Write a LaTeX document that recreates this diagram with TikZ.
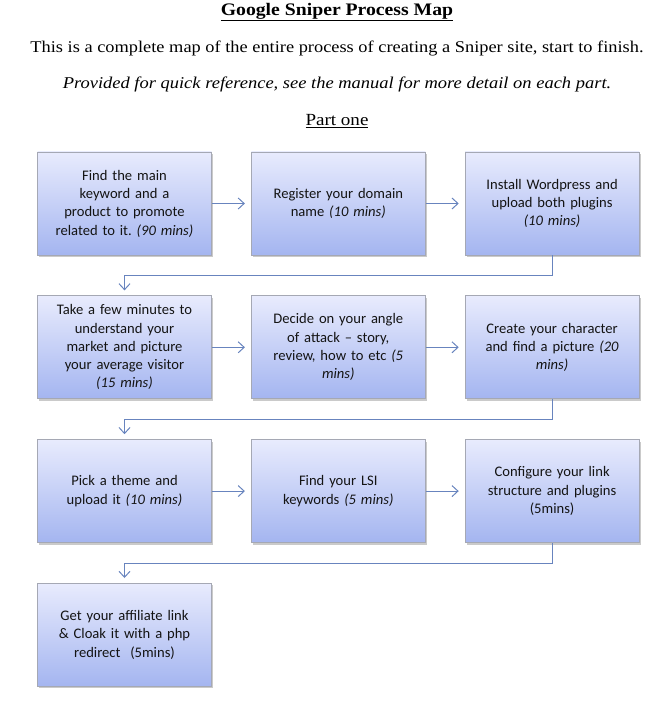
\documentclass[tikz,border=0pt]{standalone}
\usepackage{fontspec}
\setmainfont{Liberation Serif}[FakeStretch=1.12]
\setsansfont{Carlito}
\usepackage{tikz}
\usetikzlibrary{positioning, arrows.meta, shadows}
\frenchspacing
\definecolor{boxtop}{RGB}{232,235,253}
\definecolor{boxbot}{RGB}{164,181,240}
\definecolor{boxline}{RGB}{165,168,180}
\definecolor{flowline}{RGB}{104,132,190}
\definecolor{boxtext}{RGB}{20,20,20}
\tikzset{
  stepbox/.style={rectangle, draw=boxline, line width=0.8pt,
                  top color=boxtop, bottom color=boxbot,
                  minimum width=174pt, minimum height=103pt,
                  text width=164pt, align=center, text=boxtext,
                  font=\sffamily\fontsize{14.6}{18.3}\selectfont,
                  drop shadow={shadow xshift=1.5pt, shadow yshift=-2pt,
                               opacity=0.35, fill=black!60}},
  headtext/.style={font=\fontsize{16.4}{18}\selectfont, text=black},
  flowarr/.style={-{Straight Barb[length=6pt, width=11pt, line width=1pt]},
                  draw=flowline, line width=1pt},
}
\begin{document}
\begin{tikzpicture}[x=1pt, y=-1pt, node distance=40pt and 39pt]
  \useasboundingbox (0,0) rectangle (660,703);

  %% Heading
  \node[headtext, font=\bfseries\fontsize{17.6}{18}\selectfont] (title) at (337,12)
    {\underline{Google Sniper Process Map}};
  \node[headtext] (intro) at (337,48)
    {This is a complete map of the entire process of creating a Sniper site, start to finish.};
  \node[headtext, font=\itshape\fontsize{16.5}{18}\selectfont] (note) at (337,84)
    {Provided for quick reference, see the manual for more detail on each part.};
  \node[headtext, font=\fontsize{17}{18}\selectfont] (part) at (337,121) {\underline{Part one}};

  %% Row one
  \node[stepbox] (keyword) at (124.5,203.5)
    {Find the main\\keyword and a\\product to promote\\related to it. \textit{(90 mins)}};
  \node[stepbox, right=of keyword] (domain)
    {Register your domain\\name \textit{(10 mins)}};
  \node[stepbox, right=of domain] (wordpress)
    {Install Wordpress and\\upload both plugins\\\textit{(10 mins)}};

  %% Row two
  \node[stepbox, below=of keyword] (market)
    {Take a few minutes to\\understand your\\market and picture\\your average visitor\\\textit{(15 mins)}};
  \node[stepbox, right=of market] (angle)
    {Decide on your angle\\of attack -- story,\\review, how to etc \textit{(5}\\\textit{mins)}};
  \node[stepbox, right=of angle] (character)
    {Create your character\\and find a picture \textit{(20}\\\textit{mins)}};

  %% Row three
  \node[stepbox, below=of market] (theme)
    {Pick a theme and\\upload it \textit{(10 mins)}};
  \node[stepbox, right=of theme] (lsi)
    {Find your LSI\\keywords \textit{(5 mins)}};
  \node[stepbox, right=of lsi] (links)
    {Configure your link\\structure and plugins\\(5mins)\\[10pt]};

  %% Row four
  \node[stepbox, below=of theme] (affiliate)
    {Get your affiliate link\\\& Cloak it with a php\\redirect~~(5mins)};

  %% Arrows along each row
  \draw[flowarr, shorten >=6pt] (keyword) -- (domain);
  \draw[flowarr, shorten >=6pt] (domain) -- (wordpress);
  \draw[flowarr, shorten >=6pt] (market) -- (angle);
  \draw[flowarr, shorten >=6pt] (angle) -- (character);
  \draw[flowarr, shorten >=6pt] (theme) -- (lsi);
  \draw[flowarr, shorten >=6pt] (lsi) -- (links);

  %% Arrows back to the next row
  \draw[flowarr, shorten >=5pt] (wordpress.south) -- ++(0,20) -| (market.north);
  \draw[flowarr, shorten >=5pt] (character.south) -- ++(0,20) -| (theme.north);
  \draw[flowarr, shorten >=5pt] (links.south) -- ++(0,20) -| (affiliate.north);

\end{tikzpicture}
\end{document}
